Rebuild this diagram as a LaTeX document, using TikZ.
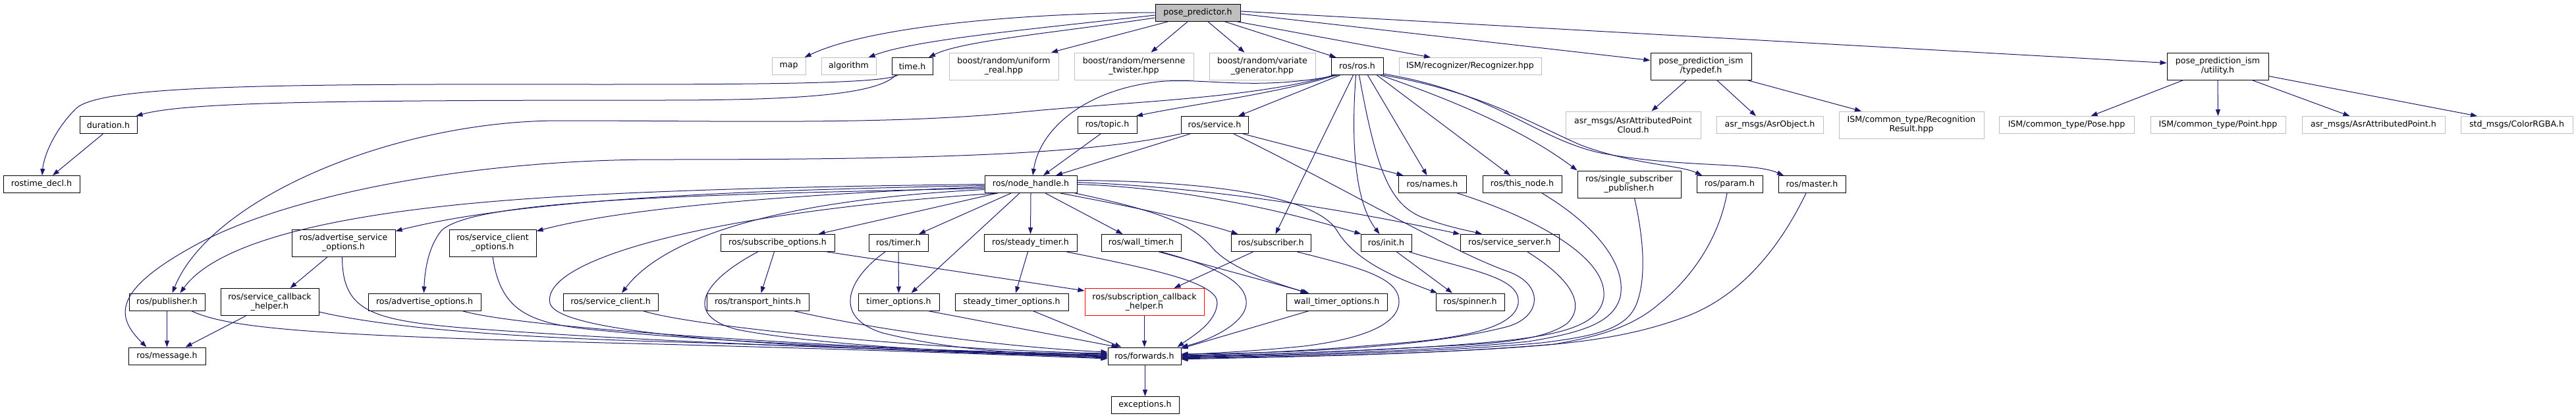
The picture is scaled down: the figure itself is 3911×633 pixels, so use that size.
\documentclass[tikz,border=0pt]{standalone}
\usepackage{fontspec}
\setmainfont{DejaVu Sans}
\usetikzlibrary{arrows.meta}
\definecolor{edgeblue}{HTML}{191970}
\definecolor{extgray}{HTML}{BFBFBF}
\definecolor{rootfill}{HTML}{BFBFBF}
\definecolor{redborder}{HTML}{FF0000}
\begin{document}
\begin{tikzpicture}[x=1pt,y=-1pt,
  box/.style={rectangle, inner sep=0pt, line width=1pt, align=center,
    font=\fontsize{12.6pt}{14pt}\selectfont},
  int/.style={box, draw=black},
  ext/.style={box, draw=extgray},
  rootbox/.style={box, draw=black, fill=rootfill},
  redbox/.style={box, draw=redborder},
  sz/.style 2 args={minimum width=#1pt, minimum height=#2pt},
  edge/.style={draw=edgeblue, line width=1pt, -{Triangle[length=10pt,width=7pt]}}
]
\useasboundingbox (0,0) rectangle (3911,633);

% Row A / B
\node[rootbox, sz={129}{26}] (pp) at (1818.5,19) {pose\_predictor.h};
\node[ext, sz={51}{26}] (map) at (1197.5,100.5) {map};
\node[ext, sz={83}{26}] (alg) at (1288.5,100.5) {algorithm};
\node[int, sz={62}{26}] (time) at (1385,100.5) {time.h};
\node[ext, sz={166}{41}] (unif) at (1524,100.5) {boost/random/uniform\\\_real.hpp};
\node[ext, sz={181}{41}] (mers) at (1721.5,100.5) {boost/random/mersenne\\\_twister.hpp};
\node[ext, sz={161}{41}] (vari) at (1916.5,100.5) {boost/random/variate\\\_generator.hpp};
\node[int, sz={79}{26}] (ros) at (2060.5,100.5) {ros/ros.h};
\node[ext, sz={216}{26}] (recog) at (2232,100.5) {ISM/recognizer/Recognizer.hpp};
\node[int, sz={153}{41}] (typedef) at (2582.5,100.5) {pose\_prediction\_ism\\/typedef.h};
\node[int, sz={154}{41}] (util) at (3367,100.5) {pose\_prediction\_ism\\/utility.h};

% Row C
\node[int, sz={87}{26}] (dur) at (164.5,189.5) {duration.h};
\node[int, sz={90}{26}] (topic) at (1681,189.5) {ros/topic.h};
\node[int, sz={102}{26}] (service) at (1844,189.5) {ros/service.h};
\node[ext, sz={205}{41}] (apc) at (2479.5,189.5) {asr\_msgs/AsrAttributedPoint\\Cloud.h};
\node[ext, sz={162}{26}] (aobj) at (2687,189.5) {asr\_msgs/AsrObject.h};
\node[ext, sz={220}{41}] (rres) at (2902,189.5) {ISM/common\_type/Recognition\\Result.hpp};
\node[ext, sz={205}{26}] (pose) at (3137.5,189.5) {ISM/common\_type/Pose.hpp};
\node[ext, sz={205}{26}] (point) at (3367.5,189.5) {ISM/common\_type/Point.hpp};
\node[ext, sz={217}{26}] (apt) at (3603.5,189.5) {asr\_msgs/AsrAttributedPoint.h};
\node[ext, sz={170}{26}] (rgba) at (3821,189.5) {std\_msgs/ColorRGBA.h};

% Row D
\node[int, sz={116}{26}] (rdecl) at (63,279.5) {rostime\_decl.h};
\node[int, sz={140}{26}] (nh) at (1565,279.5) {ros/node\_handle.h};
\node[int, sz={103}{26}] (names) at (2174.5,279.5) {ros/names.h};
\node[int, sz={120}{26}] (thisn) at (2311,279.5) {ros/this\_node.h};
\node[int, sz={157}{41}] (ssp) at (2473.5,279.5) {ros/single\_subscriber\\\_publisher.h};
\node[int, sz={100}{26}] (param) at (2626,279.5) {ros/param.h};
\node[int, sz={102}{26}] (master) at (2751,279.5) {ros/master.h};

% Row E
\node[int, sz={157}{41}] (aso) at (521.5,368.5) {ros/advertise\_service\\\_options.h};
\node[int, sz={132}{41}] (sco) at (748,368.5) {ros/service\_client\\\_options.h};
\node[int, sz={173}{26}] (subo) at (1180.5,368.5) {ros/subscribe\_options.h};
\node[int, sz={90}{26}] (timer) at (1364,368.5) {ros/timer.h};
\node[int, sz={141}{26}] (stimer) at (1564.5,368.5) {ros/steady\_timer.h};
\node[int, sz={121}{26}] (wtimer) at (1732.5,368.5) {ros/wall\_timer.h};
\node[int, sz={121}{26}] (subr) at (1929.5,368.5) {ros/subscriber.h};
\node[int, sz={77}{26}] (init) at (2104.5,368.5) {ros/init.h};
\node[int, sz={150}{26}] (ssrv) at (2292,368.5) {ros/service\_server.h};

% Row F
\node[int, sz={115}{26}] (pub) at (253.5,458) {ros/publisher.h};
\node[int, sz={149}{41}] (scbh) at (409.5,458) {ros/service\_callback\\\_helper.h};
\node[int, sz={171}{26}] (ao) at (644.5,458) {ros/advertise\_options.h};
\node[int, sz={144}{26}] (sclient) at (927,458) {ros/service\_client.h};
\node[int, sz={155}{26}] (th) at (1150.5,458) {ros/transport\_hints.h};
\node[int, sz={123}{26}] (to) at (1364.5,458) {timer\_options.h};
\node[int, sz={172}{26}] (sto) at (1536,458) {steady\_timer\_options.h};
\node[redbox, sz={181}{41}] (subcb) at (1737.5,458) {ros/subscription\_callback\\\_helper.h};
\node[int, sz={153}{26}] (wto) at (2029.5,458) {wall\_timer\_options.h};
\node[int, sz={104}{26}] (spin) at (2232,458) {ros/spinner.h};

% Row G / H
\node[int, sz={117}{26}] (msg) at (253.5,540) {ros/message.h};
\node[int, sz={111}{26}] (fwd) at (1737.5,540) {ros/forwards.h};
\node[int, sz={103}{26}] (exc) at (1738.5,614.5) {exceptions.h};

% ---- edges from pose_predictor.h
\draw[edge] (pp.west) .. controls (1550,20) and (1320,40) .. ([xshift=24pt]map.north);
\draw[edge] ([yshift=-4pt]pp.west) .. controls (1560,45) and (1390,60) .. ([xshift=30pt]alg.north);
\draw[edge] ([yshift=-8pt]pp.west) .. controls (1600,50) and (1460,62) .. ([xshift=25pt]time.north);
\draw[edge] ([xshift=-44pt]pp.south) -- ([xshift=72pt]unif.north);
\draw[edge] ([xshift=-15pt]pp.south) -- ([xshift=26pt]mers.north);
\draw[edge] ([xshift=15pt]pp.south) -- ([xshift=-27pt]vari.north);
\draw[edge] ([xshift=40pt]pp.south) -- ([xshift=-32pt]ros.north);
\draw[edge] ([xshift=58pt]pp.south) -- ([xshift=-60pt]recog.north);
\draw[edge] ([yshift=-2pt]pp.east) -- ([yshift=9pt]typedef.west);
\draw[edge] ([yshift=2pt]pp.east) -- ([yshift=5pt]util.west);

% ---- time.h
\draw[edge] ([xshift=-22pt]time.south) .. controls (1340,127) and (1150,128) .. (900,128)
  .. controls (400,127) and (150,130) .. (115,165) .. controls (80,200) and (66,240) .. ([xshift=1pt]rdecl.north);
\draw[edge] ([xshift=-25pt]time.south) .. controls (1330,145) and (1200,152) .. (1000,152)
  .. controls (500,152) and (280,155) .. ([xshift=-2pt]dur.north east);
\draw[edge] ([xshift=-8pt]dur.south) -- ([xshift=17pt]rdecl.north);

% ---- ros/ros.h
\draw[edge] ([xshift=-30pt]ros.south) .. controls (1900,140) and (1820,115) .. (1750,125)
  .. controls (1640,140) and (1578,200) .. ([xshift=3pt]nh.north);
\draw[edge] ([xshift=-33pt]ros.south) .. controls (1950,140) and (1800,160) .. ([xshift=44pt]topic.north);
\draw[edge] ([xshift=-26pt]ros.south) -- ([xshift=36pt]service.north);
\draw[edge] ([xshift=-36pt]ros.south) .. controls (1900,150) and (1700,155) .. (1550,170)
  .. controls (1350,190) and (1100,183) .. (850,183) .. controls (600,183) and (320,300) .. ([xshift=8pt]pub.north);
\draw[edge] ([xshift=-6pt]ros.south) -- ([xshift=7pt]subr.north);
\draw[edge] ([xshift=-2pt]ros.south) .. controls (2050,230) and (2060,310) .. ([xshift=-10pt]init.north);
\draw[edge] ([xshift=3pt]ros.south) .. controls (2090,260) and (2110,310) .. (2160,330)
  .. controls (2200,345) and (2230,350) .. ([xshift=-42pt]ssrv.north);
\draw[edge] ([xshift=16pt]ros.south) -- ([xshift=-8pt]names.north);
\draw[edge] ([xshift=30pt]ros.south) -- ([xshift=-18pt]thisn.north);
\draw[edge] ([xshift=35pt]ros.south) .. controls (2200,150) and (2310,195) .. (ssp.north west);
\draw[edge] (ros.south east) .. controls (2250,140) and (2330,190) .. (2400,220)
  .. controls (2480,250) and (2550,250) .. ([xshift=-42pt]param.north);
\draw[edge] ([yshift=2pt]ros.south east) .. controls (2270,140) and (2330,210) .. (2430,232)
  .. controls (2550,255) and (2660,245) .. ([xshift=-43pt]master.north);

% ---- typedef.h / utility.h
\draw[edge] ([xshift=-22pt]typedef.south) -- ([xshift=28pt]apc.north);
\draw[edge] ([xshift=24pt]typedef.south) -- ([xshift=-21pt]aobj.north);
\draw[edge] ([xshift=70pt]typedef.south) -- ([xshift=-76pt]rres.north);
\draw[edge] ([xshift=-52pt]util.south) -- ([xshift=37pt]pose.north);
\draw[edge] (util.south) -- (point.north);
\draw[edge] ([xshift=52pt]util.south) -- ([xshift=-36pt]apt.north);
\draw[edge] ([yshift=-15pt]util.east) -- ([xshift=-60pt]rgba.north);

% ---- topic.h / service.h
\draw[edge] ([xshift=-10pt]topic.south) -- ([xshift=19pt]nh.north);
\draw[edge] ([xshift=-37pt]service.south) -- ([xshift=38pt]nh.north);
\draw[edge] (service.south west) .. controls (1650,235) and (1400,242) .. (1000,242)
  .. controls (700,242) and (430,300) .. (300,370) .. controls (170,440) and (175,480) .. ([xshift=-31pt]msg.north);
\draw[edge] ([xshift=43pt]service.south) -- ([xshift=-44pt]names.north);
\draw[edge] ([xshift=29pt]service.south) .. controls (2050,290) and (2200,380) .. (2290,412)
  .. controls (2345,432) and (2340,480) .. (2290,495) .. controls (2150,532) and (1900,536) .. ([yshift=3pt]fwd.east);

% ---- ros/node_handle.h
\draw[edge] (nh.west) .. controls (1200,283) and (900,290) .. (700,310)
  .. controls (450,335) and (320,380) .. ([xshift=20pt]pub.north);
\draw[edge] ([yshift=-2pt]nh.west) .. controls (1150,288) and (800,300) .. ([yshift=-3pt]aso.north east);
\draw[edge] ([yshift=-4pt]nh.west) .. controls (1200,295) and (950,315) .. ([yshift=-3pt]sco.north east);
\draw[edge] ([yshift=-6pt]nh.west) .. controls (1100,295) and (720,300) .. (670,350)
  .. controls (650,375) and (645,410) .. ([xshift=-1pt]ao.north);
\draw[edge] ([yshift=-8pt]nh.west) .. controls (1150,305) and (1000,370) .. ([xshift=17pt]sclient.north);
\draw[edge] ([xshift=-50pt]nh.south) .. controls (1100,320) and (820,390) .. (835,460)
  .. controls (850,515) and (1300,530) .. ([yshift=-2pt]fwd.west);
\draw[edge] ([xshift=-51pt]nh.south) -- ([xshift=62pt]subo.north);
\draw[edge] ([xshift=-30pt]nh.south) -- ([xshift=31pt]timer.north);
\draw[edge] ([xshift=-17pt]nh.south) -- ([xshift=19pt]to.north);
\draw[edge] (nh.south) -- (stimer.north);
\draw[edge] ([xshift=22pt]nh.south) -- ([xshift=-28pt]wtimer.north);
\draw[edge] ([xshift=45pt]nh.south) .. controls (1700,310) and (1800,330) .. ([xshift=-50pt]subr.north);
\draw[edge] ([xshift=67pt]nh.south) .. controls (1760,320) and (1810,340) .. (1840,375)
  .. controls (1870,410) and (1940,430) .. ([xshift=-45pt]wto.north);
\draw[edge] (nh.east) .. controls (1800,285) and (1950,320) .. ([xshift=-38pt]init.north);
\draw[edge] ([yshift=3pt]nh.east) .. controls (1850,285) and (2050,320) .. (ssrv.north west);
\draw[edge] ([yshift=6pt]nh.east) .. controls (1850,275) and (2000,300) .. (2030,350)
  .. controls (2060,400) and (2130,425) .. ([xshift=-50pt]spin.north);

% ---- right group into forwards
\draw[edge] ([xshift=38pt]names.south) .. controls (2330,330) and (2440,390) .. (2435,450)
  .. controls (2430,490) and (2380,505) .. (2300,515) .. controls (2150,532) and (1900,538) .. (fwd.east);
\draw[edge] ([xshift=30pt]thisn.south) .. controls (2420,340) and (2470,400) .. (2460,450)
  .. controls (2450,490) and (2400,505) .. (2320,518) .. controls (2150,535) and (1900,539) .. ([yshift=-2pt]fwd.east);
\draw[edge] ([xshift=8pt]ssp.south) .. controls (2495,360) and (2500,420) .. (2485,460)
  .. controls (2470,500) and (2420,510) .. (2340,520) .. controls (2150,537) and (1900,540) .. ([yshift=-3pt]fwd.east);
\draw[edge] ([xshift=-4pt]param.south) .. controls (2610,360) and (2570,420) .. (2520,460)
  .. controls (2480,495) and (2430,510) .. (2360,522) .. controls (2150,540) and (1900,541) .. ([yshift=-4pt]fwd.east);
\draw[edge] ([xshift=-9pt]master.south) .. controls (2700,380) and (2640,450) .. (2560,480)
  .. controls (2480,510) and (2400,520) .. (2300,527) .. controls (2100,540) and (1900,542) .. ([yshift=-5pt]fwd.east);
\draw[edge] ([xshift=40pt]subr.south) .. controls (2060,405) and (2125,420) .. (2124,458)
  .. controls (2123,495) and (2060,515) .. (1980,525) .. controls (1900,533) and (1850,535) .. ([yshift=2pt]fwd.east);
\draw[edge] ([xshift=35pt]init.south) .. controls (2230,410) and (2310,420) .. (2305,460)
  .. controls (2300,495) and (2230,510) .. (2150,518) .. controls (2000,532) and (1880,537) .. ([yshift=1pt]fwd.east);
\draw[edge] ([xshift=27pt]ssrv.south) .. controls (2380,420) and (2410,460) .. (2380,490)
  .. controls (2340,520) and (2250,522) .. (2150,527) .. controls (2000,535) and (1880,539) .. ([yshift=-1pt]fwd.east);
\draw[edge] ([xshift=16pt]init.south) -- ([xshift=-27pt]spin.north);

% ---- middle group
\draw[edge] ([xshift=-5pt]subo.south) -- ([xshift=5pt]th.north);
\draw[edge] ([xshift=75pt]subo.south) -- ([yshift=-4pt]subcb.north west);
\draw[edge] ([xshift=-30pt]subo.south) .. controls (1060,430) and (1040,480) .. (1120,500)
  .. controls (1250,525) and (1500,537) .. (fwd.west);
\draw[edge] (timer.south) -- (to.north);
\draw[edge] ([xshift=-20pt]timer.south) .. controls (1290,420) and (1260,480) .. (1340,505)
  .. controls (1450,532) and (1550,537) .. ([yshift=2pt]fwd.west);
\draw[edge] ([xshift=-4pt]stimer.south) -- ([xshift=6pt]sto.north);
\draw[edge] ([xshift=55pt]stimer.south) .. controls (1760,410) and (1850,430) .. (1848,460)
  .. controls (1846,490) and (1810,510) .. ([xshift=-6pt]fwd.north east);
\draw[edge] ([xshift=27pt]wtimer.south) -- ([xshift=-42pt]wto.north);
\draw[edge] ([xshift=30pt]wtimer.south) .. controls (1850,405) and (1895,430) .. (1892,462)
  .. controls (1889,490) and (1840,515) .. (fwd.north east);
\draw[edge] ([xshift=-27pt]subr.south) -- ([xshift=45pt]subcb.north);
\draw[edge] ([xshift=44pt]to.south) -- ([xshift=-40pt]fwd.north);
\draw[edge] ([xshift=32pt]sto.south) -- ([xshift=-35pt]fwd.north);
\draw[edge] (subcb.south) -- (fwd.north);
\draw[edge] ([xshift=-42pt]wto.south) -- ([yshift=-2pt]fwd.north east);
\draw[edge] ([xshift=54pt]th.south) .. controls (1350,505) and (1550,528) .. ([yshift=6pt]fwd.west);
\draw[edge] ([xshift=1pt]fwd.south) -- (exc.north);

% ---- left group
\draw[edge] ([xshift=-24pt]aso.south) -- ([xshift=31pt]scbh.north);
\draw[edge] ([xshift=-2pt]aso.south) .. controls (520,470) and (560,485) .. (700,497)
  .. controls (1000,520) and (1400,533) .. ([yshift=1pt]fwd.west);
\draw[edge] (sco.south) .. controls (760,470) and (800,490) .. (900,500)
  .. controls (1100,520) and (1400,532) .. ([yshift=3pt]fwd.west);
\draw[edge] (pub.south) -- (msg.north);
\draw[edge] ([xshift=37pt]pub.south) .. controls (350,500) and (500,510) .. (1000,522)
  .. controls (1300,530) and (1500,537) .. ([yshift=-4pt]fwd.west);
\draw[edge] ([xshift=-36pt]scbh.south) -- ([xshift=28pt]msg.north);
\draw[edge] ([yshift=-15pt]scbh.east) .. controls (600,500) and (800,512) .. (1000,518)
  .. controls (1300,527) and (1500,535) .. ([yshift=-3pt]fwd.west);
\draw[edge] ([xshift=57pt]ao.south) .. controls (800,500) and (1300,528) .. ([yshift=-1pt]fwd.west);
\draw[edge] ([xshift=49pt]sclient.south) .. controls (1050,495) and (1400,530) .. ([yshift=4pt]fwd.west);
\end{tikzpicture}
\end{document}
